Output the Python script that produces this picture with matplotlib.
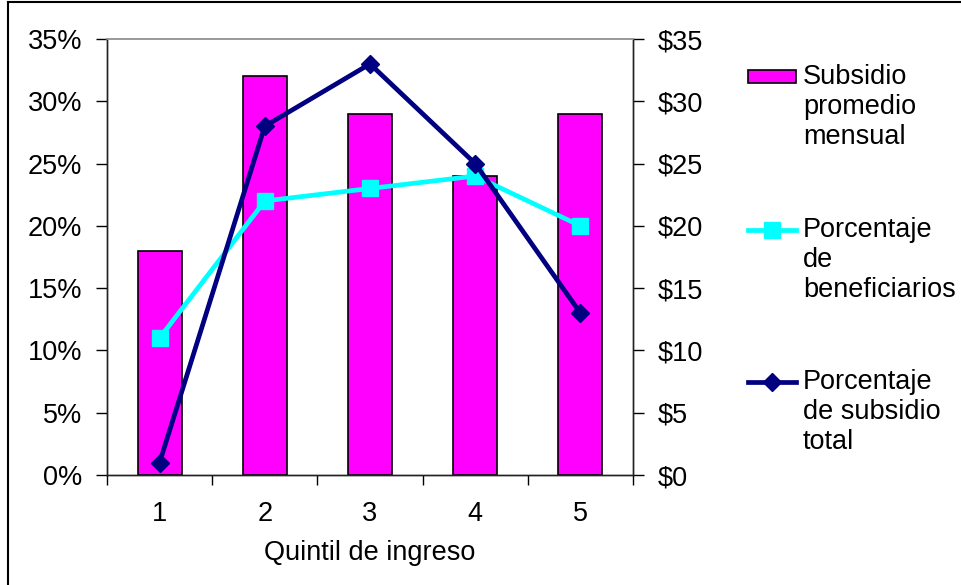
import matplotlib.pyplot as plt
from matplotlib.lines import Line2D
from matplotlib.patches import Rectangle
from matplotlib.ticker import FuncFormatter

plt.rcParams['font.family'] = ['Liberation Sans', 'DejaVu Sans']

# Data
quintiles = [1, 2, 3, 4, 5]
subsidio_promedio = [18, 32, 29, 24, 29]      # $ (right axis)
pct_beneficiarios = [11, 22, 23, 24, 20]      # %
pct_subsidio_total = [1, 28, 33, 25, 13]      # %

W, H = 961, 585
fig = plt.figure(figsize=(W / 100, H / 100), dpi=100)
ax = fig.add_axes([107 / W, 1 - 475 / H, (633 - 107) / W, (475 - 39) / H])
ax2 = ax.twinx()

FS = 19.5

# bars on the right ($) axis
ax2.bar(quintiles, subsidio_promedio, width=0.42, color='#FF00FF',
        edgecolor='black', linewidth=1.2, zorder=1)

# lines on the left (%) axis, drawn above the bars
ax.set_zorder(ax2.get_zorder() + 1)
ax.patch.set_visible(False)
ax.plot(quintiles, pct_beneficiarios, color='#00FFFF', lw=3.4,
        marker='s', markersize=12, zorder=3)
ax.plot(quintiles, pct_subsidio_total, color='#000080', lw=3.4,
        marker='D', markersize=9.5, zorder=4)

for a in (ax, ax2):
    a.set_xlim(0.5, 5.5)
    a.set_ylim(0, 35)
    a.set_yticks(range(0, 36, 5))

ax.yaxis.set_major_formatter(FuncFormatter(lambda v, p: f'{int(v)}%'))
ax2.yaxis.set_major_formatter(FuncFormatter(lambda v, p: f'${int(v)}'))

ax.set_xticks(quintiles)
ax.set_xticklabels([str(q) for q in quintiles])
ax.set_xticks([q + 0.5 for q in [0] + quintiles], minor=True)
ax.tick_params(axis='x', which='major', length=0, pad=19, labelsize=FS)
ax.tick_params(axis='x', which='minor', length=7, width=1, direction='out')
ax.tick_params(axis='y', length=8, width=1, direction='out', pad=10, labelsize=FS)
ax2.tick_params(axis='y', length=8, width=1, direction='out', pad=10, labelsize=FS)

for a in (ax, ax2):
    for s in ('left', 'right', 'bottom'):
        a.spines[s].set_color('#222222')
        a.spines[s].set_linewidth(1.0)
    a.spines['top'].set_color('#999999')
    a.spines['top'].set_linewidth(1.2)

ax.set_xlabel('Quintil de ingreso', fontsize=FS, labelpad=9)

# outer chart frame (left and top edges visible)
fig.add_artist(Line2D([8 / W, 8 / W], [0, 1 - 1.5 / H], transform=fig.transFigure,
                      color='black', lw=1.5))
fig.add_artist(Line2D([8 / W, 1], [1 - 1.5 / H, 1 - 1.5 / H], transform=fig.transFigure,
                      color='black', lw=1.5))


# legend drawn by hand so each handle sits on the first text line
def fy(px):
    return 1 - px / H


hx0, hx1, tx = 748 / W, 796 / W, 803 / W
hxs = [hx0, (hx0 + hx1) / 2, hx1]
fig.add_artist(Rectangle((hx0, fy(83)), hx1 - hx0, 13 / H, transform=fig.transFigure,
                         facecolor='#FF00FF', edgecolor='black', lw=1.2))
fig.add_artist(Line2D(hxs, [fy(230)] * 3, transform=fig.transFigure,
                      color='#00FFFF', lw=3.4, marker='s', markersize=12,
                      markevery=[1]))
fig.add_artist(Line2D(hxs, [fy(382)] * 3, transform=fig.transFigure,
                      color='#000080', lw=3.4, marker='D', markersize=9.5,
                      markevery=[1]))

legend_labels = ['Subsidio\npromedio\nmensual',
                 'Porcentaje\nde\nbeneficiarios',
                 'Porcentaje\nde subsidio\ntotal']
for lbl, y in zip(legend_labels, [77, 230, 382]):
    fig.text(tx, fy(y - 13), lbl, fontsize=FS, ha='left', va='top',
             linespacing=1.2)

fig.savefig('out.png', dpi=100)
